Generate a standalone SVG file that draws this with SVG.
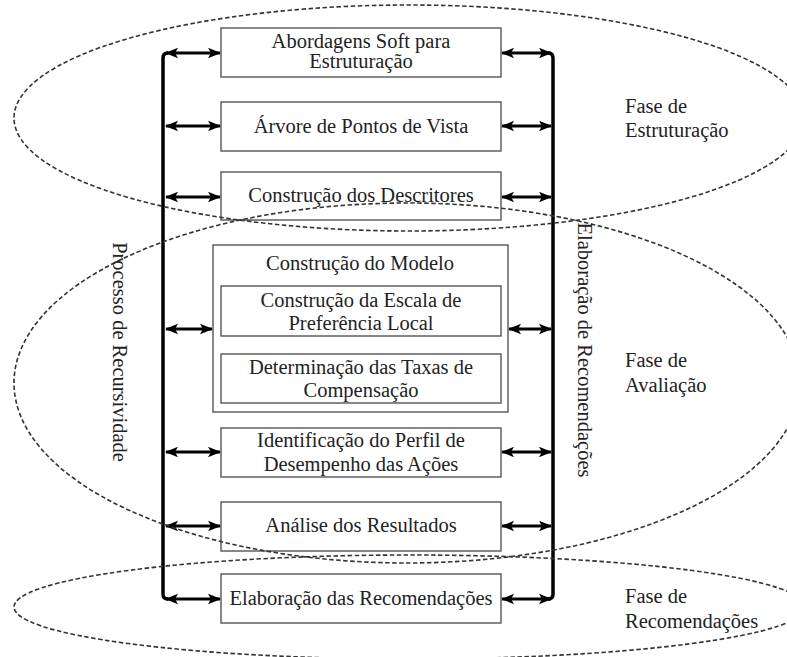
<svg xmlns="http://www.w3.org/2000/svg" width="787" height="657" viewBox="0 0 787 657">
<style>
.box{fill:none;stroke:#555;stroke-width:1.4}
.t{font-family:"Liberation Serif","Times New Roman",serif;font-size:20.5px;fill:#222}
.c{text-anchor:middle}
.bar{fill:none;stroke:#000;stroke-width:3.5;stroke-linejoin:round}
.arr{stroke:#000;stroke-width:3.2;marker-start:url(#ah);marker-end:url(#ah)}
.ell{fill:none;stroke:#333;stroke-width:1.6;stroke-dasharray:4.5 2.5}
</style>
<defs>
<marker id="ah" markerUnits="userSpaceOnUse" markerWidth="15" markerHeight="12" refX="12" refY="6" orient="auto-start-reverse" viewBox="0 0 15 12">
<path d="M0,0.8 L13,6 L0,11.2 L3,6 z" fill="#000"/>
</marker>
</defs>
<rect width="787" height="657" fill="#fff"/>

<g id="connectors">
<path class="bar" d="M168,53 Q163,53 163,58 L163,594 Q163,599 168,599"/>
<path class="bar" d="M548,53 Q553,53 553,58 L553,594 Q553,599 548,599"/>
<line class="arr" x1="166" y1="53" x2="220" y2="53"/>
<line class="arr" x1="166" y1="126" x2="220" y2="126"/>
<line class="arr" x1="166" y1="197" x2="220" y2="197"/>
<line class="arr" x1="166" y1="329" x2="212" y2="329"/>
<line class="arr" x1="166" y1="452" x2="220" y2="452"/>
<line class="arr" x1="166" y1="526" x2="220" y2="526"/>
<line class="arr" x1="166" y1="599" x2="220" y2="599"/>
<line class="arr" x1="502" y1="53" x2="551" y2="53"/>
<line class="arr" x1="502" y1="126" x2="551" y2="126"/>
<line class="arr" x1="502" y1="197" x2="551" y2="197"/>
<line class="arr" x1="509" y1="329" x2="551" y2="329"/>
<line class="arr" x1="502" y1="452" x2="551" y2="452"/>
<line class="arr" x1="502" y1="526" x2="551" y2="526"/>
<line class="arr" x1="502" y1="599" x2="551" y2="599"/>
</g>

<g id="n1"><rect class="box" x="221" y="28" width="280" height="49"/>
<text class="t c" x="361" y="48">Abordagens Soft para</text>
<text class="t c" x="361" y="68">Estruturação</text></g>

<g id="n2"><rect class="box" x="221" y="102" width="280" height="49"/>
<text class="t c" x="361" y="133">Árvore de Pontos de Vista</text></g>

<g id="n3"><rect class="box" x="221" y="172" width="280" height="48"/>
<text class="t c" x="361" y="202">Construção dos Descritores</text></g>

<g id="n4"><rect class="box" x="213" y="245" width="295" height="167"/>
<text class="t c" x="360" y="270">Construção do Modelo</text></g>

<g id="n4a"><rect class="box" x="221" y="286" width="280" height="50"/>
<text class="t c" x="361" y="307">Construção da Escala de</text>
<text class="t c" x="361" y="330">Preferência Local</text></g>

<g id="n4b"><rect class="box" x="221" y="354" width="280" height="49"/>
<text class="t c" x="361" y="374">Determinação das Taxas de</text>
<text class="t c" x="361" y="397">Compensação</text></g>

<g id="n5"><rect class="box" x="221" y="428" width="280" height="49"/>
<text class="t c" x="361" y="447">Identificação do Perfil de</text>
<text class="t c" x="361" y="471">Desempenho das Ações</text></g>

<g id="n6"><rect class="box" x="221" y="502" width="280" height="49"/>
<text class="t c" x="361" y="532">Análise dos Resultados</text></g>

<g id="n7"><rect class="box" x="221" y="574" width="280" height="49"/>
<text class="t c" x="361" y="605">Elaboração das Recomendações</text></g>

<g id="phase-estruturacao"><ellipse class="ell" cx="409" cy="118" rx="395" ry="113"/>
<text class="t" x="625" y="113">Fase de</text>
<text class="t" x="625" y="137">Estruturação</text></g>

<g id="phase-avaliacao"><ellipse class="ell" cx="407" cy="383" rx="393" ry="180"/>
<text class="t" x="625" y="367">Fase de</text>
<text class="t" x="625" y="392">Avaliação</text></g>

<g id="phase-recomendacoes"><ellipse class="ell" cx="410" cy="607" rx="396" ry="52"/>
<text class="t" x="625" y="603">Fase de</text>
<text class="t" x="625" y="628">Recomendações</text></g>

<g id="label-recursividade"><text class="t c" transform="translate(113,352) rotate(90)">Processo de Recursividade</text></g>
<g id="label-elaboracao"><text class="t c" transform="translate(578,350) rotate(90)">Elaboração de Recomendações</text></g>
</svg>
